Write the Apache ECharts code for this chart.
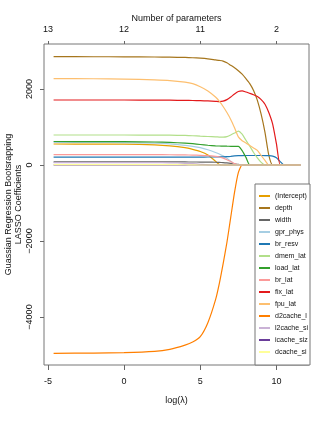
<!DOCTYPE html>
<html lang="en">
<head>
	<meta charset="UTF-8">
	<script src="https://cdn.jsdelivr.net/npm/echarts@6/dist/echarts.min.js"></script>
	<style>
		html, body { margin: 0; padding: 0; background: #fff; }
	</style>
</head>
<body>
<div id="lassoPath" style="width: 332px; height: 421px;"></div>
<script>
  // log(lambda) grid the path is read at
  var logLambda = [-4.63, -2, 0, 2, 3, 4, 4.5, 5, 5.5, 6, 6.25, 6.5, 6.75, 7, 7.25, 7.5, 7.75, 8, 8.25, 8.5, 8.75, 9, 9.25, 9.5, 9.75, 10, 10.25, 10.5, 10.75, 11.56];

  var names = ['(Intercept)', 'depth', 'width', 'gpr_phys', 'br_resv', 'dmem_lat', 'load_lat', 'br_lat', 'fix_lat', 'fpu_lat', 'd2cache_lat', 'l2cache_size', 'icache_size', 'dcache_size'];
  var colors = ['#E69F00', '#A6761D', '#666666', '#A6CEE3', '#1F78B4', '#B2DF8A', '#33A02C', '#FB9A99', '#E31A1C', '#FDBF6F', '#FF7F00', '#CAB2D6', '#6A3D9A', '#FFFF99'];

  var intercept  = [552, 550, 548, 530, 505, 455, 410, 355, 265, 100, 15, 0, 0, 0, 0, 0, 0, 0, 0, 0, 0, 0, 0, 0, 0, 0, 0, 0, 0, 0];
  var depth      = [2850, 2849, 2847, 2842, 2838, 2830, 2822, 2810, 2792, 2765, 2752, 2735, 2690, 2625, 2560, 2480, 2390, 2270, 2140, 1960, 1700, 1330, 860, 260, 0, 0, 0, 0, 0, 0];
  var width      = [82, 82, 82, 81, 81, 80, 79, 78, 76, 72, 68, 62, 54, 44, 32, 16, 0, 0, 0, 0, 0, 0, 0, 0, 0, 0, 0, 0, 0, 0];
  var gprPhys    = [595, 593, 590, 575, 555, 515, 490, 455, 400, 330, 290, 240, 180, 100, 25, 0, 0, 0, 0, 0, 0, 0, 0, 0, 0, 0, 0, 0, 0, 0];
  var brResv     = [205, 205, 205, 205, 205, 206, 207, 208, 210, 212, 214, 216, 220, 228, 238, 245, 248, 250, 250, 250, 250, 250, 248, 245, 232, 190, 90, 0, 0, 0];
  var dmemLat    = [790, 790, 789, 787, 785, 777, 770, 760, 750, 740, 735, 732, 745, 790, 840, 893, 810, 650, 495, 330, 190, 70, 0, 0, 0, 0, 0, 0, 0, 0];
  var loadLat    = [618, 617, 615, 605, 595, 575, 560, 540, 520, 505, 500, 497, 494, 492, 490, 490, 380, 200, 0, 0, 0, 0, 0, 0, 0, 0, 0, 0, 0, 0];
  var brLat      = [275, 275, 274, 272, 270, 265, 262, 255, 245, 225, 210, 180, 140, 90, 35, 0, 0, 0, 0, 0, 0, 0, 0, 0, 0, 0, 0, 0, 0, 0];
  var fixLat     = [1710, 1710, 1710, 1708, 1705, 1700, 1697, 1692, 1685, 1675, 1668, 1680, 1720, 1790, 1870, 1935, 1950, 1920, 1885, 1850, 1800, 1720, 1600, 1380, 1080, 560, 0, 0, 0, 0];
  var fpuLat     = [2272, 2270, 2262, 2240, 2222, 2180, 2140, 2060, 1950, 1790, 1680, 1540, 1380, 1200, 980, 740, 640, 580, 515, 450, 385, 250, 120, 0, 0, 0, 0, 0, 0, 0];
  var d2cacheLat = [-4955, -4948, -4939, -4905, -4850, -4740, -4660, -4518, -4150, -3550, -3120, -2600, -2040, -1380, -720, -200, 0, 0, 0, 0, 0, 0, 0, 0, 0, 0, 0, 0, 0, 0];
  var l2cacheSize = [65, 65, 64, 62, 58, 45, 35, 20, 5, 0, 0, 0, 0, 0, 0, 0, 0, 0, 0, 0, 0, 0, 0, 0, 0, 0, 0, 0, 0, 0];
  var icacheSize = [0, 0, 0, 0, 0, 0, 0, 0, 0, 0, 0, 0, 0, 0, 0, 0, 0, 0, 0, 0, 0, 0, 0, 0, 0, 0, 0, 0, 0, 0];
  var dcacheSize = [12, 12, 12, 11, 10, 7, 4, 0, 0, 0, 0, 0, 0, 0, 0, 0, 0, 0, 0, 0, 0, 0, 0, 0, 0, 0, 0, 0, 0, 0];

  var coefs = [intercept, depth, width, gprPhys, brResv, dmemLat, loadLat, brLat, fixLat, fpuLat, d2cacheLat, l2cacheSize, icacheSize, dcacheSize];

  // axis ticks
  var xTicks = [-5, 0, 5, 10];
  var topLabels = ['13', '12', '11', '2'];
  var yTicks = [-4000, -2000, 0, 2000];

  var font = 'Liberation Sans';

  var series = [];
  for (var i = 0; i < names.length; i++) {
    var pts = [];
    for (var j = 0; j < logLambda.length; j++) {
      pts.push([logLambda[j], coefs[i][j]]);
    }
    series.push({
      name: names[i],
      type: 'line',
      data: pts,
      showSymbol: false,
      smooth: 0.2,
      silent: true,
      lineStyle: { width: 1.2, color: colors[i] },
      itemStyle: { color: colors[i] }
    });
  }

  var chart = echarts.init(document.getElementById('lassoPath'));
  var option = {
    animation: false,
    textStyle: { fontFamily: font },
    grid: {
      left: 44, right: 23, top: 44, bottom: 56,
      show: true,
      borderColor: '#777',
      borderWidth: 1,
      outerBoundsMode: 'none'
    },
    legend: {
      orient: 'vertical',
      left: 255,
      top: 184,
      data: names,
      icon: 'rect',
      itemWidth: 11,
      itemHeight: 2,
      itemGap: 0,
      padding: [6, 0, 7, 4],
      selectedMode: false,
      backgroundColor: '#fff',
      borderColor: '#777',
      borderWidth: 1,
      borderRadius: 0,
      textStyle: {
        fontFamily: font,
        fontSize: 7,
        color: '#111',
        lineHeight: 12,
        width: 35,
        overflow: 'truncate',
        ellipsis: ''
      }
    },
    xAxis: [
      {
        type: 'value',
        min: -5.26,
        max: 12.14,
        name: 'log(\u03bb)',
        nameLocation: 'middle',
        nameGap: 31,
        nameMoveOverlap: false,
        nameTextStyle: { fontSize: 9, color: '#111', fontFamily: font },
        axisLine: { show: false, onZero: false },
        splitLine: { show: false },
        axisTick: { show: true, length: 5, lineStyle: { color: '#666' }, customValues: xTicks },
        axisLabel: { fontSize: 9, color: '#111', margin: 12, customValues: xTicks }
      },
      {
        type: 'value',
        position: 'top',
        min: -5.26,
        max: 12.14,
        name: 'Number of parameters',
        nameLocation: 'middle',
        nameGap: 21,
        nameMoveOverlap: false,
        nameTextStyle: { fontSize: 9, color: '#111', fontFamily: font },
        axisLine: { show: false, onZero: false },
        splitLine: { show: false },
        axisTick: { show: true, length: 3, lineStyle: { color: '#666' }, customValues: xTicks },
        axisLabel: {
          fontSize: 9, color: '#111', margin: 10, customValues: xTicks,
          formatter: function (v) {
            var k = xTicks.indexOf(v);
            return k >= 0 ? topLabels[k] : '';
          }
        }
      }
    ],
    yAxis: {
      type: 'value',
      min: -5263,
      max: 3184,
      name: 'Guassian Regression Bootsrapping\nLASSO Coefficients',
      nameLocation: 'middle',
      nameGap: 20,
      nameMoveOverlap: false,
      nameTextStyle: { fontSize: 9, lineHeight: 10, color: '#111', fontFamily: font },
      axisLine: { show: false, onZero: false },
      splitLine: { show: false },
      axisTick: { show: true, length: 4, lineStyle: { color: '#666' }, customValues: yTicks },
      axisLabel: {
        fontSize: 9, color: '#111', margin: 10, rotate: 90, customValues: yTicks,
        formatter: function (v) { return String(v).replace('-', '\u2212'); }
      }
    },
    series: series
  };
  chart.setOption(option);
</script>
</body>
</html>
